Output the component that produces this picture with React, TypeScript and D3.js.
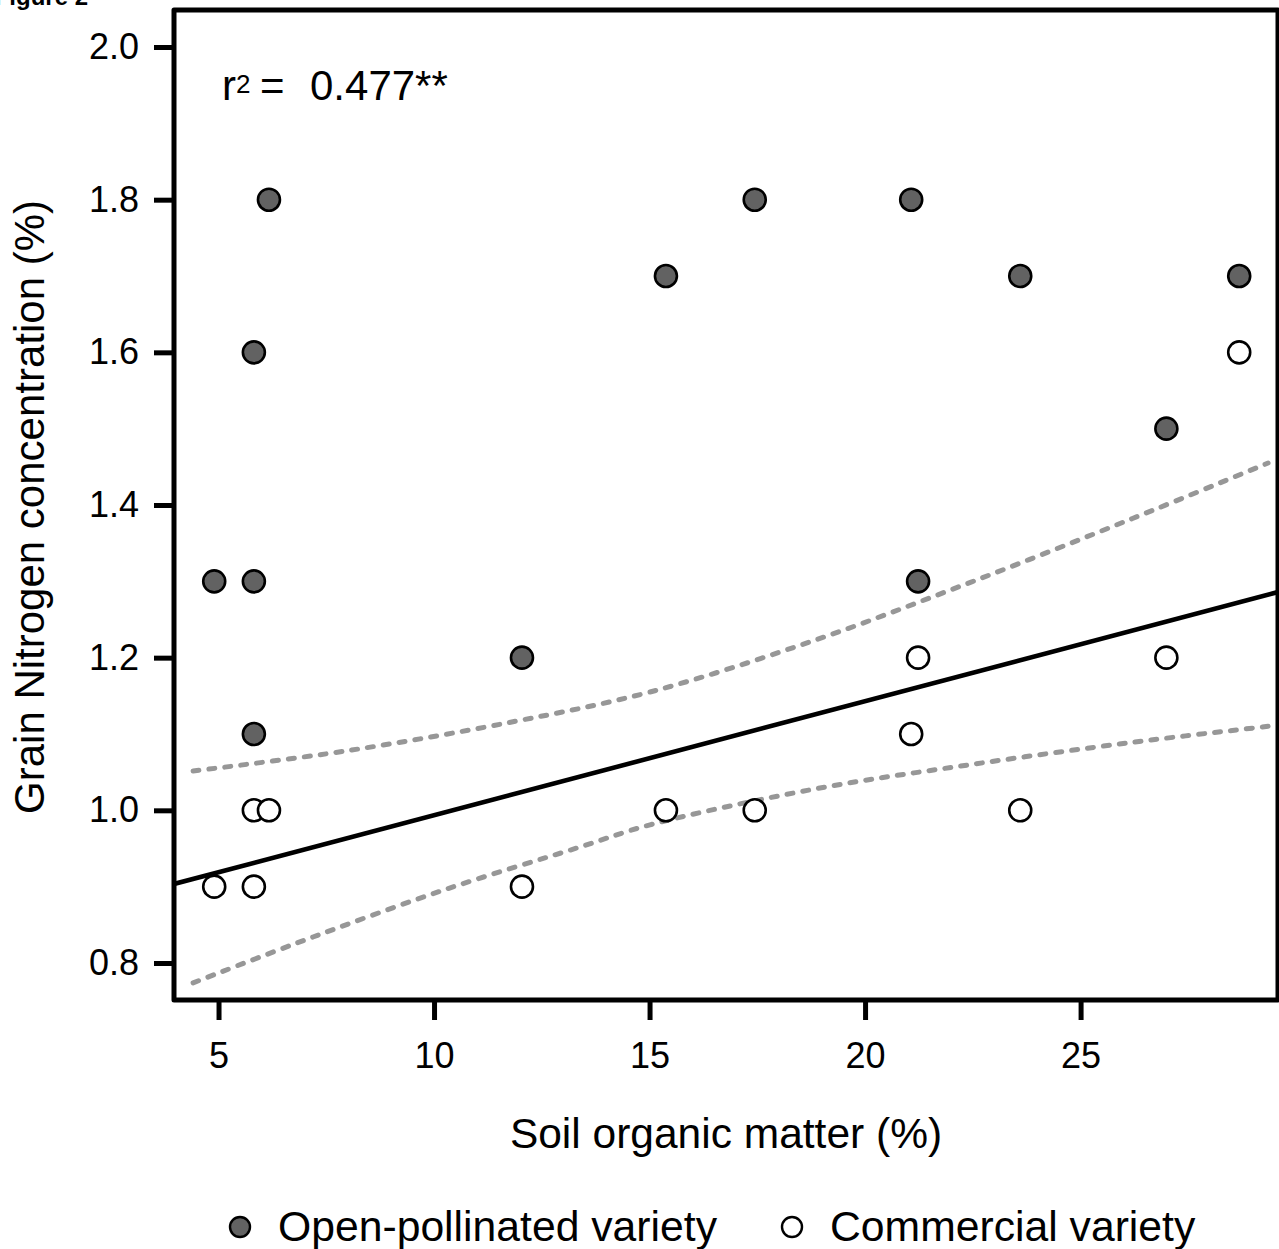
import { useEffect, useRef } from 'react';
import * as d3 from 'd3';

// Open-pollinated variety (filled)
const openX = [4.9, 5.82, 5.82, 5.82, 6.17, 12.04, 15.38, 17.44, 21.07, 21.23, 23.6, 26.99, 28.68];
const openY = [1.3, 1.6, 1.3, 1.1, 1.8, 1.2, 1.7, 1.8, 1.8, 1.3, 1.7, 1.5, 1.7];

// Commercial variety (hollow)
const commX = [4.9, 5.82, 5.82, 6.17, 12.04, 15.38, 17.44, 21.07, 21.23, 23.6, 26.99, 28.68];
const commY = [0.9, 0.9, 1.0, 1.0, 0.9, 1.0, 1.0, 1.1, 1.2, 1.0, 1.2, 1.6];

// fitted line endpoints and confidence band
const fitX = [3.967, 29.58];
const fitY = [0.9035, 1.286];
const upperX = [4.41, 7.98, 11.83, 15.01, 18.74, 22.46, 26.19, 29.35];
const upperY = [1.0515, 1.078, 1.116, 1.155, 1.221, 1.299, 1.382, 1.455];
const lowerX = [4.41, 7.19, 10.3, 13.39, 15.01, 18.74, 22.46, 26.19, 29.35];
const lowerY = [0.774, 0.834, 0.897, 0.952, 0.981, 1.027, 1.06, 1.089, 1.11];

const xTicks = [5, 10, 15, 20, 25];
const yTicks = [0.8, 1.0, 1.2, 1.4, 1.6, 1.8, 2.0];

const FONT = '"Liberation Sans", Arial, Helvetica, sans-serif';

const ScatterChart = () => {
  const svgRef = useRef<SVGSVGElement>(null);

  useEffect(() => {
    const W = 1279, H = 1249;
    const left = 174, right = 1278, top = 10, bottom = 1000;

    const svg = d3.select(svgRef.current);
    svg.selectAll('*').remove();
    svg.attr('width', W).attr('height', H);

    const x = d3.scaleLinear().domain([3.967, 29.58]).range([left, right]);
    const y = d3.scaleLinear().domain([0.7515, 2.0485]).range([bottom, top]);

    svg.append('defs').append('clipPath').attr('id', 'plotclip')
      .append('rect').attr('x', left).attr('y', top)
      .attr('width', right - left).attr('height', bottom - top);

    // "Figure 2" header, cut off at the top like in the source
    svg.append('text')
      .attr('x', 88).attr('y', 5)
      .attr('text-anchor', 'end')
      .style('font-family', FONT).style('font-weight', 'bold').style('font-size', '24px')
      .text('Figure 2');

    const plot = svg.append('g').attr('clip-path', 'url(#plotclip)');

    const curve = d3.line<[number, number]>()
      .x(d => x(d[0])).y(d => y(d[1]))
      .curve(d3.curveCatmullRom.alpha(0.5));

    const pairs = (xs: number[], ys: number[]) => xs.map((v, i) => [v, ys[i]] as [number, number]);

    [pairs(upperX, upperY), pairs(lowerX, lowerY)].forEach(pts => {
      plot.append('path')
        .attr('d', curve(pts))
        .attr('fill', 'none')
        .attr('stroke', '#979797')
        .attr('stroke-width', 5)
        .attr('stroke-linecap', 'round')
        .attr('stroke-dasharray', '6 10');
    });

    plot.append('path')
      .attr('d', d3.line<[number, number]>().x(d => x(d[0])).y(d => y(d[1]))(pairs(fitX, fitY)))
      .attr('fill', 'none')
      .attr('stroke', '#000')
      .attr('stroke-width', 4.6);

    // points
    plot.selectAll('.comm')
      .data(pairs(commX, commY))
      .enter().append('circle')
      .attr('class', 'comm')
      .attr('cx', d => x(d[0])).attr('cy', d => y(d[1]))
      .attr('r', 11)
      .attr('fill', '#fff').attr('stroke', '#000').attr('stroke-width', 2.6);

    plot.selectAll('.open')
      .data(pairs(openX, openY))
      .enter().append('circle')
      .attr('class', 'open')
      .attr('cx', d => x(d[0])).attr('cy', d => y(d[1]))
      .attr('r', 11)
      .attr('fill', '#626262').attr('stroke', '#000').attr('stroke-width', 2.6);

    // box
    svg.append('rect')
      .attr('x', left).attr('y', top)
      .attr('width', right - left).attr('height', bottom - top)
      .attr('fill', 'none').attr('stroke', '#000').attr('stroke-width', 5)
      .attr('stroke-linejoin', 'round');

    // axes
    const xAxis = svg.append('g').attr('transform', `translate(0,${bottom})`)
      .call(d3.axisBottom(x).tickValues(xTicks).tickSize(20).tickSizeOuter(0).tickPadding(22).tickFormat(d3.format('d')));
    xAxis.select('.domain').remove();
    xAxis.selectAll('line').attr('stroke-width', 5).attr('stroke', '#000');
    xAxis.selectAll('text').style('font-family', FONT).style('font-size', '36px').attr('fill', '#000');

    const yAxis = svg.append('g').attr('transform', `translate(${left},0)`)
      .call(d3.axisLeft(y).tickValues(yTicks).tickSize(20).tickSizeOuter(0).tickPadding(15).tickFormat(d3.format('.1f')));
    yAxis.select('.domain').remove();
    yAxis.selectAll('line').attr('stroke-width', 5).attr('stroke', '#000');
    yAxis.selectAll('text').style('font-family', FONT).style('font-size', '36px').attr('fill', '#000');

    // titles
    svg.append('text')
      .attr('x', (left + right) / 2).attr('y', 1148)
      .attr('text-anchor', 'middle')
      .style('font-family', FONT).style('font-size', '42.5px')
      .text('Soil organic matter (%)');

    svg.append('text')
      .attr('transform', `translate(44,${(top + bottom) / 2 + 2}) rotate(-90)`)
      .attr('text-anchor', 'middle')
      .style('font-family', FONT).style('font-size', '42px')
      .text('Grain Nitrogen concentration (%)');

    // r squared
    const r2 = svg.append('g').style('font-family', FONT);
    r2.append('text').attr('x', 222).attr('y', 100).style('font-size', '42px').text('r');
    r2.append('text').attr('x', 236).attr('y', 93).style('font-size', '26px').text('2');
    r2.append('text').attr('x', 260).attr('y', 100).style('font-size', '42px').text('=');
    r2.append('text').attr('x', 310).attr('y', 100).style('font-size', '42px').text('0.477**');

    // legend
    const legendItems = [
      { label: 'Open-pollinated variety', fill: '#626262', cx: 240, tx: 278 },
      { label: 'Commercial variety', fill: '#fff', cx: 792, tx: 830 },
    ];
    const legend = svg.selectAll('.legend')
      .data(legendItems)
      .enter().append('g')
      .attr('class', 'legend');
    legend.append('circle')
      .attr('cx', d => d.cx).attr('cy', 1227).attr('r', 10)
      .attr('fill', d => d.fill).attr('stroke', '#000').attr('stroke-width', 2.4);
    legend.append('text')
      .attr('x', d => d.tx).attr('y', 1241)
      .style('font-family', FONT).style('font-size', '42.7px')
      .text(d => d.label);
  }, []);

  return <svg ref={svgRef} style={{ position: 'absolute', left: 0, top: 0, background: '#fff' }}></svg>;
};

export default function App() {
  return <ScatterChart />;
}
